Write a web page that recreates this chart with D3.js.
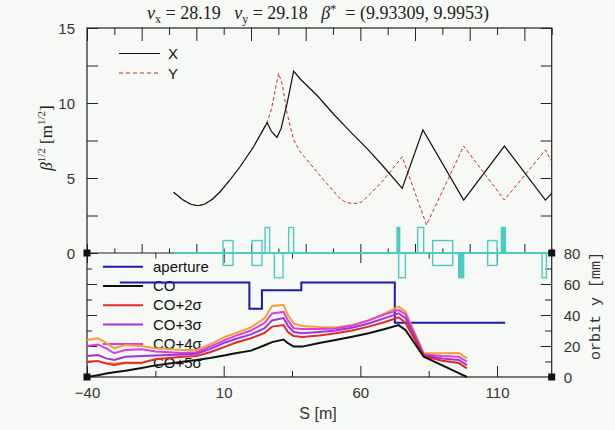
<!DOCTYPE html>
<html>
<head>
<meta charset="utf-8">
<style>
  body { margin: 0; background: #f6f9f5; }
  svg { display: block; }
  .tk line { stroke: #222; stroke-width: 1; }
  .lab text { font-family: "Liberation Sans", sans-serif; font-size: 15px; fill: #333; }
</style>
</head>
<body>
<script src="https://cdn.jsdelivr.net/npm/d3@7"></script>
<script>
// ---- beta functions (sqrt beta, m^1/2) ----
const sX = [-8.3, -5, -2, 0.5, 3, 6, 8.8, 12, 16, 21, 25.9, 27.5, 29.5, 31, 33.2, 35.6, 38, 44.2, 50, 56.3, 62.4, 68.5, 75.3, 82.9, 97.8, 112.7, 127.7, 130]
const betaX = [4.05, 3.55, 3.25, 3.15, 3.25, 3.6, 4.1, 4.8, 5.75, 7.1, 8.69, 8.1, 7.71, 8.3, 9.98, 12.13, 11.6, 10.5, 9.3, 8.09, 6.98, 5.75, 4.31, 8.2, 3.53, 7.13, 3.53, 3.98]
const sY = [-8.3, -5, -2, 0.5, 3, 6, 8.8, 12, 16, 21, 25.9, 27.5, 29, 30.1, 31.5, 33.2, 35.6, 38, 40.5, 46.6, 52.7, 55, 58, 60.5, 64, 68.5, 75.3, 84.2, 97.8, 112.7, 127.7, 130]
const betaY = [4.05, 3.55, 3.25, 3.15, 3.25, 3.6, 4.1, 4.8, 5.75, 7.1, 8.7, 9.6, 11, 11.98, 11.2, 9.31, 7.53, 6.75, 6.2, 4.87, 3.6, 3.35, 3.3, 3.4, 4, 4.87, 6.42, 1.87, 7.13, 3.53, 6.87, 6.09]

// ---- lattice elements (B bend, QF/QD quads, SF/SD thin) ----
const elemS = [9.76, 20.37, 25.13, 28.53, 33.77, 73.43, 74.01, 80.97, 86.45, 95.97, 106.58, 111.59, 126.48]
const elemL = [3.66, 3.66, 1.68, 3.19, 1.83, 0.95, 2.46, 2.19, 7.32, 1.83, 3.44, 1.46, 1.58]
const elemType = ["B", "B", "QF", "QD", "QF", "SF", "QD", "QF", "B", "SD", "B", "SF", "QD"]

// ---- orbit y [mm] ----
const apS = [-28, 19.4, 24, 38.4, 72.6, 113]
const apV = [61, 44, 56, 61, 35, 35]
const orbS = [-40, -36, -33, -30, -26, -20, -15, -5, 0, 5, 10.6, 14.3, 20, 25, 27.7, 31.9, 33.5, 35.6, 38.7, 45, 50.9, 57, 63, 69, 74, 76.5, 83.2, 90, 96, 99]
const co   = [0, 1.2, 2.2, 3, 4, 5.8, 7.5, 9.9, 11, 12.3, 14, 15.3, 17, 20.5, 22.5, 24.2, 21.8, 19.6, 19.6, 22, 23.9, 26, 28.2, 31, 33.5, 30.3, 13.1, 7.5, 2.5, 0]
const co2s = [9.9, 10.3, 8.8, 7.7, 9.2, 9.2, 11.5, 13, 13.5, 16, 19.6, 22.1, 25, 28.5, 32.5, 33.5, 29, 26.5, 25.8, 26.8, 28.2, 30, 32.5, 35.5, 38.5, 35, 13.5, 10.5, 9, 5.6]
const co3s = [13.5, 14.2, 12, 11, 13.1, 13.5, 13.8, 14.5, 15, 18, 22.3, 24.5, 27.5, 31.5, 36.5, 38, 33, 29, 28.3, 29, 30, 31.8, 34.5, 38, 41.1, 38, 14, 12, 11, 7.7]
const co4s = [20, 21, 18.5, 15.3, 17.4, 17.9, 16.5, 15.5, 16, 19.5, 24, 26.5, 30, 35, 41, 42, 36.5, 31.5, 31, 31, 31.3, 33, 36.5, 40.5, 43.2, 40.5, 14.5, 13.5, 13, 9.9]
const co5s = [23.9, 25, 22.1, 18.5, 20.6, 20, 18.5, 17.5, 17.5, 21, 26, 28.2, 32, 38, 45.8, 46.5, 40, 34.6, 32.9, 32.3, 32, 33.5, 36.5, 41, 45.4, 42.1, 15.3, 15.3, 15.5, 12]

const orbitNames = ["aperture", "CO", "CO+2σ", "CO+3σ", "CO+4σ", "CO+5σ"]
const orbitColors = ["#1c1ca6", "#111", "#e02a2a", "#9a36dc", "#e23ae2", "#f0a238"]

const x = d3.scaleLinear().domain([-40, 130]).range([87, 551.7])
const yB = d3.scaleLinear().domain([0, 15]).range([253, 28])
const yO = d3.scaleLinear().domain([0, 80]).range([377, 253])

const svg = d3.select("body").append("svg").attr("width", 615).attr("height", 430)
svg.append("rect").attr("width", 615).attr("height", 430).attr("fill", "#f6f9f5")

// ---- ticks ----
function ticks(axis, scale, vals, size, tx, ty) {
  svg.append("g").attr("class", "tk").attr("transform", `translate(${tx},${ty})`)
    .call(axis(scale).tickValues(vals).tickSize(size).tickFormat(""))
    .call(g => g.select(".domain").remove())
}
const every = (a, b, st) => d3.range(a, b + 0.001, st)
const s10 = every(-40, 130, 10)
ticks(d3.axisTop, x, s10.filter(d => (d + 40) % 20 == 0), -13, 0, 28)
ticks(d3.axisTop, x, s10.filter(d => (d + 40) % 20 != 0), -7, 0, 28)
ticks(d3.axisBottom, x, s10.filter(d => (d + 40) % 20 == 0), -9, 0, 253)
ticks(d3.axisBottom, x, s10.filter(d => (d + 40) % 20 != 0), -4.5, 0, 253)
const s25 = every(-40, 130, 25)
ticks(d3.axisBottom, x, s25.filter(d => (d + 40) % 50 == 0), 10, 0, 253)
ticks(d3.axisBottom, x, s25.filter(d => (d + 40) % 50 != 0), 5.5, 0, 253)
ticks(d3.axisBottom, x, s25.filter(d => (d + 40) % 50 == 0), -11, 0, 377)
ticks(d3.axisBottom, x, s25.filter(d => (d + 40) % 50 != 0), -6, 0, 377)
ticks(d3.axisLeft, yB, every(0, 15, 2.5), -11, 87, 0)
ticks(d3.axisRight, yB, every(0, 15, 2.5), -11, 551.7, 0)
ticks(d3.axisLeft, yO, every(20, 60, 20), -10, 87, 0)
ticks(d3.axisLeft, yO, every(10, 70, 20), -5, 87, 0)
ticks(d3.axisRight, yO, every(20, 60, 20), -11, 551.7, 0)
ticks(d3.axisRight, yO, every(10, 70, 20), -6.5, 551.7, 0)

// ---- frame ----
svg.append("rect").attr("x", 87).attr("y", 28).attr("width", 551.7 - 87).attr("height", 377 - 28)
  .attr("fill", "none").attr("stroke", "#222").attr("stroke-width", 1.2)
svg.append("line").attr("x1", 87).attr("x2", 551.7).attr("y1", yB(0)).attr("y2", yB(0))
  .attr("stroke", "#222").attr("stroke-width", 1.2)

// ---- tick labels ----
function labels(axis, scale, vals, pad, tx, ty) {
  svg.append("g").attr("class", "lab").attr("transform", `translate(${tx},${ty})`)
    .call(axis(scale).tickValues(vals).tickSize(0).tickPadding(pad))
    .call(g => g.select(".domain").remove())
}
labels(d3.axisLeft, yB, [0, 5, 10, 15], 12, 87, 1)
labels(d3.axisRight, yO, [0, 20, 40, 60, 80], 12, 551.7, 1)
labels(d3.axisBottom, x, [-40, 10, 60, 110], 10, 0, 377)

// ---- titles ----
const sp = "\u00a0"
const title = svg.append("text").attr("x", 318).attr("y", 19).attr("text-anchor", "middle")
  .style("font-family", "Liberation Serif, serif").style("font-size", "18px").attr("fill", "#222")
title.append("tspan").text("ν").style("font-style", "italic")
title.append("tspan").text("x").attr("dy", 4).style("font-size", "12px")
title.append("tspan").text(" = 28.19" + sp + sp + sp).attr("dy", -4)
title.append("tspan").text("ν").style("font-style", "italic")
title.append("tspan").text("y").attr("dy", 4).style("font-size", "12px")
title.append("tspan").text(" = 29.18" + sp + sp + sp).attr("dy", -4)
title.append("tspan").text("β").style("font-style", "italic")
title.append("tspan").text("*").attr("dy", -6).style("font-size", "12px")
title.append("tspan").text(sp + " = (9.93309, 9.9953)").attr("dy", 6)

const yl = svg.append("text").attr("transform", "translate(52,138) rotate(-90)").attr("text-anchor", "middle")
  .style("font-family", "Liberation Serif, serif").style("font-size", "17px").attr("fill", "#222")
yl.append("tspan").text("β").style("font-style", "italic")
yl.append("tspan").text("1/2").attr("dy", -7).style("font-size", "11px")
yl.append("tspan").text(sp + "[m").attr("dy", 7)
yl.append("tspan").text("1/2").attr("dy", -7).style("font-size", "11px")
yl.append("tspan").text("]").attr("dy", 7)

svg.append("text").attr("transform", "translate(600,306) rotate(-90)").attr("text-anchor", "middle")
  .style("font-family", "Liberation Mono, monospace").style("font-size", "15px").attr("fill", "#333")
  .text("orbit y [mm]")

svg.append("text").attr("x", 318).attr("y", 419).attr("text-anchor", "middle")
  .style("font-family", "Liberation Sans, sans-serif").style("font-size", "16px").attr("fill", "#333")
  .text("S [m]")

// ---- beta legend ----
const bl = [["X", "#111", null], ["Y", "#d22", "4,3"]]
bl.forEach((d, i) => {
  const yy = 53.5 + i * 19.5
  svg.append("line").attr("x1", 119).attr("x2", 160).attr("y1", yy).attr("y2", yy)
    .attr("stroke", d[1]).attr("stroke-width", 1.2).attr("stroke-dasharray", d[2])
  svg.append("text").attr("x", 168).attr("y", yy + 5.5).text(d[0])
    .style("font-family", "Liberation Sans, sans-serif").style("font-size", "15px").attr("fill", "#111")
})

// ---- orbit legend ----
orbitNames.forEach((n, i) => {
  const yy = 266.7 + i * 19.3
  svg.append("line").attr("x1", 103).attr("x2", 143).attr("y1", yy).attr("y2", yy)
    .attr("stroke", orbitColors[i]).attr("stroke-width", 2)
  svg.append("text").attr("x", 153).attr("y", yy + 5).text(n)
    .style("font-family", "Liberation Sans, sans-serif").style("font-size", "15px").attr("fill", "#111")
})

// ---- lattice ----
const cyan = "#4ccbc4"
svg.append("line").attr("x1", x(-8.3)).attr("x2", x(130)).attr("y1", yB(0)).attr("y2", yB(0))
  .attr("stroke", cyan).attr("stroke-width", 2)
elemS.forEach((s, i) => {
  const t = elemType[i]
  const up = t == "QF" || t == "SF"
  const top = t == "B" ? 0.83 : up ? 1.7 : 0
  const bot = t == "B" ? -0.83 : up ? 0 : -1.65
  const w = x(s + elemL[i]) - x(s)
  svg.append("rect").attr("x", x(s)).attr("y", yB(top)).attr("width", w).attr("height", yB(bot) - yB(top))
    .attr("fill", t[0] == "S" ? cyan : "none").attr("stroke", cyan).attr("stroke-width", 1.4)
})

// ---- beta curves ----
const line = d3.line().x(d => x(d[0])).y(d => yB(d[1]))
svg.append("path").attr("d", line(d3.zip(sY, betaY))).attr("fill", "none")
  .attr("stroke", "#d42a2a").attr("stroke-width", 1).attr("stroke-dasharray", "3.5,2.5")
svg.append("path").attr("d", line(d3.zip(sX, betaX))).attr("fill", "none")
  .attr("stroke", "#111").attr("stroke-width", 1.2)

// ---- orbit curves ----
const oline = d3.line().x(d => x(d[0])).y(d => yO(d[1]))
svg.append("path").attr("d", oline.curve(d3.curveStepAfter)(d3.zip(apS, apV))).attr("fill", "none")
  .attr("stroke", orbitColors[0]).attr("stroke-width", 2)
oline.curve(d3.curveLinear)
const envs = [co5s, co4s, co3s, co2s, co]
envs.forEach((vals, k) => {
  svg.append("path").attr("d", oline(d3.zip(orbS, vals))).attr("fill", "none")
    .attr("stroke", orbitColors[5 - k]).attr("stroke-width", 2)
})

// ---- corner markers ----
const corners = [[87, 253], [87, 377], [551.7, 253], [551.7, 377]]
corners.forEach(p => {
  svg.append("rect").attr("x", p[0] - 3.5).attr("y", p[1] - 3.5).attr("width", 7).attr("height", 7).attr("fill", "#111")
})
</script>
</body>
</html>
